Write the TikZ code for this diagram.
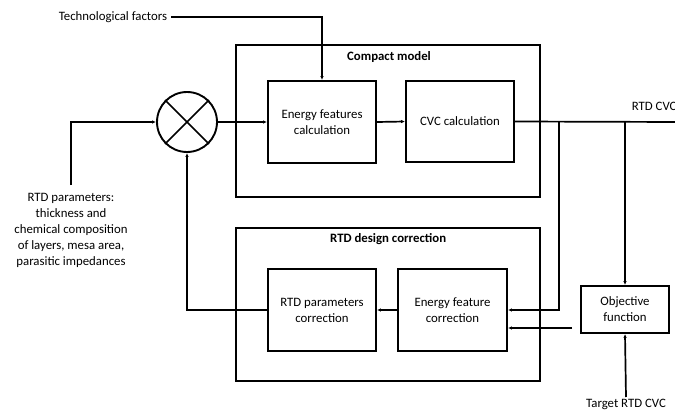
\documentclass[tikz,border=0pt]{standalone}
\usepackage{fontspec}
\setmainfont{Carlito}
\usetikzlibrary{arrows.meta}
\begin{document}
\begin{tikzpicture}[x=1pt,y=-1pt,
  line width=1.7pt,
  every node/.style={font=\fontsize{12.8}{16}\selectfont},
  blockbox/.style={draw, line width=1.9pt, align=center, inner sep=2pt},
  groupbox/.style={draw, line width=1.9pt, inner sep=0pt},
  grouptitle/.style={anchor=west, font=\fontsize{12.8}{16}\selectfont\bfseries},
  flow/.style={-{Latex[length=4pt,width=3.5pt]}},
  plain/.style={text=black, inner sep=1pt}]
\useasboundingbox (0,0) rectangle (675,412);

% outer groups
\node[groupbox, minimum width=304pt, minimum height=152pt] (compact) at (388,121) {};
\node[grouptitle] (compacttitle) at (343,57) {Compact model};
\node[groupbox, minimum width=304pt, minimum height=153pt] (design) at (388,304.5) {};
\node[grouptitle] (designtitle) at (326,239) {RTD design correction};

% blocks
\node[blockbox, minimum width=108pt, minimum height=82pt] (ef) at (322,122) {Energy features\\calculation};
\node[blockbox, minimum width=108pt, minimum height=81pt] (cvc) at (460,121.5) {CVC calculation};
\node[blockbox, minimum width=108pt, minimum height=82pt] (rpc) at (322,310) {RTD parameters\\correction};
\node[blockbox, minimum width=109pt, minimum height=82pt] (efc) at (452.5,310) {Energy feature\\correction};
\node[blockbox, minimum width=88pt, minimum height=47pt] (obj) at (625,309.5) {Objective\\function};

% mixer
\node[draw, circle, line width=1.9pt, minimum size=60pt, inner sep=0pt] (mix) at (187,122) {};
\draw[line width=1.7pt] (mix.north west) -- (mix.south east) (mix.north east) -- (mix.south west);

% free texts
\node[plain, inner sep=3pt] (tech) at (113,17) {Technological factors};
\node[plain, align=center, anchor=north] (rtdpar) at (71,191) {RTD parameters:\\thickness and\\chemical composition\\of layers, mesa area,\\parasitic impedances};
\node[plain, anchor=west] (outlabel) at (630,106) {RTD CVC};
\node[plain, anchor=north] (target) at (626,397) {Target RTD CVC};

% taps and free ends
\coordinate (outend) at (680,122);
\coordinate (tapa) at (559,122);
\coordinate (tapb) at (625,122);
\coordinate (objout) at (572,328);
\coordinate (rtdstart) at (71,185);

% connectors
\draw[flow] (tech.east) -| (ef.north);
\draw[flow] (rtdstart) |- (mix.west);
\draw[flow] (mix.east) -- (ef.west);
\draw[flow] (ef.east) -- (cvc.west);
\draw (cvc.east) -- (outend);
\draw[flow] (tapa) |- (efc.east);
\draw[flow] (tapb) -- (obj.north);
\draw[flow] (objout) -- (objout -| efc.east);
\draw[flow] (efc.west) -- (rpc.east);
\draw[flow] (rpc.west) -| (mix.south);
\draw[flow] (target.north) -- (obj.south);
\end{tikzpicture}
\end{document}
